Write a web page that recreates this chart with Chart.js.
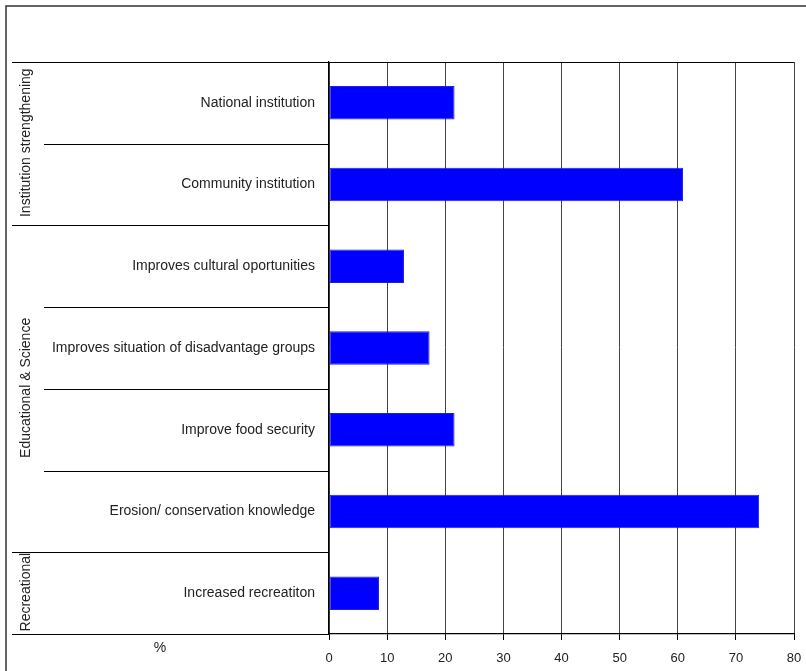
<!DOCTYPE html>
<html><head><meta charset="utf-8">
<script src="https://cdn.jsdelivr.net/npm/chart.js@4/dist/chart.umd.min.js"></script>
<style>html,body{margin:0;padding:0;background:#fff;overflow:hidden}canvas{display:block}</style>
</head><body>
<canvas id="c" width="806" height="671"></canvas>
<script>
const categories = [
  "National institution",
  "Community institution",
  "Improves cultural oportunities",
  "Improves situation of disadvantage groups",
  "Improve food security",
  "Erosion/ conservation knowledge",
  "Increased recreatiton"
];
const values = [21.6, 60.9, 12.9, 17.3, 21.6, 74.0, 8.6];
const groupNames = ["Institution strengthening", "Educational & Science", "Recreational"];
const groupFirst = [0, 2, 6];
const groupLast = [1, 5, 6];
const xMin = 0, xMax = 80, xStep = 10;
const unitLabel = "%";

const FONT = "'Liberation Sans', Arial, sans-serif";
const TXT = '#222';

const overlay = {
  id: 'overlay',
  afterDraw(chart) {
    const ctx = chart.ctx;
    const ca = chart.chartArea;
    const ys = chart.scales.y;
    const n = categories.length;
    const rowH = (ca.bottom - ca.top) / n;
    ctx.save();
    // outer frame
    ctx.strokeStyle = '#333';
    ctx.lineWidth = 1.5;
    ctx.beginPath();
    ctx.moveTo(6, 671); ctx.lineTo(6, 6); ctx.lineTo(806, 6);
    ctx.stroke();
    ctx.strokeStyle = '#000';
    ctx.lineWidth = 1.2;
    // top and bottom lines of table
    ctx.beginPath();
    ctx.moveTo(12, Math.round(ca.top) + 0.5); ctx.lineTo(ca.right, Math.round(ca.top) + 0.5);
    ctx.moveTo(12, Math.round(ca.bottom) + 0.5); ctx.lineTo(ca.left, Math.round(ca.bottom) + 0.5);
    ctx.stroke();
    // row separators
    for (let i = 1; i < n; i++) {
      const y = Math.round((ys.getPixelForValue(i - 1) + ys.getPixelForValue(i)) / 2) + 0.5;
      const isGroup = groupFirst.includes(i);
      ctx.beginPath();
      ctx.moveTo(isGroup ? 12 : 44, y); ctx.lineTo(ca.left, y);
      ctx.stroke();
    }
    // group labels
    ctx.fillStyle = TXT;
    ctx.font = '14px ' + FONT;
    ctx.textAlign = 'center';
    ctx.textBaseline = 'middle';
    for (let g = 0; g < groupNames.length; g++) {
      const y0 = ys.getPixelForValue(groupFirst[g]) - rowH / 2;
      const y1 = ys.getPixelForValue(groupLast[g]) + rowH / 2;
      ctx.save();
      ctx.translate(26, (y0 + y1) / 2 - 1);
      ctx.rotate(-Math.PI / 2);
      ctx.fillText(groupNames[g], 0, 0);
      ctx.restore();
    }
    // unit label
    ctx.fillText(unitLabel, 160, 648);
    ctx.restore();
  }
};

new Chart(document.getElementById('c'), {
  type: 'bar',
  data: {
    labels: categories,
    datasets: [{
      data: values,
      backgroundColor: '#0000ff',
      borderColor: '#1f1fe6',
      borderWidth: 1,
      borderSkipped: false,
      barPercentage: 0.41,
      categoryPercentage: 1
    }]
  },
  options: {
    indexAxis: 'y',
    responsive: false,
    animation: false,
    devicePixelRatio: 1,
    layout: { padding: { top: 62, right: 12, left: 0, bottom: 0 } },
    plugins: { legend: { display: false }, tooltip: { enabled: false } },
    scales: {
      x: {
        position: 'bottom',
        min: xMin, max: xMax,
        ticks: { stepSize: xStep, color: TXT, font: { family: FONT, size: 13 }, padding: 11 },
        grid: { color: '#444', lineWidth: 1, tickLength: 6, tickColor: '#000' },
        border: { color: '#000', width: 1.2 },
        afterFit: s => { s.height = 37; s.paddingRight = 0; s.paddingLeft = 0; }
      },
      y: {
        ticks: { color: TXT, font: { family: FONT, size: 14 }, padding: 6 },
        grid: { display: false },
        border: { color: '#000', width: 1.2 },
        afterFit: s => { s.width = 329; s.paddingTop = 0; s.paddingBottom = 0; }
      }
    }
  },
  plugins: [overlay]
});
</script>
</body></html>
